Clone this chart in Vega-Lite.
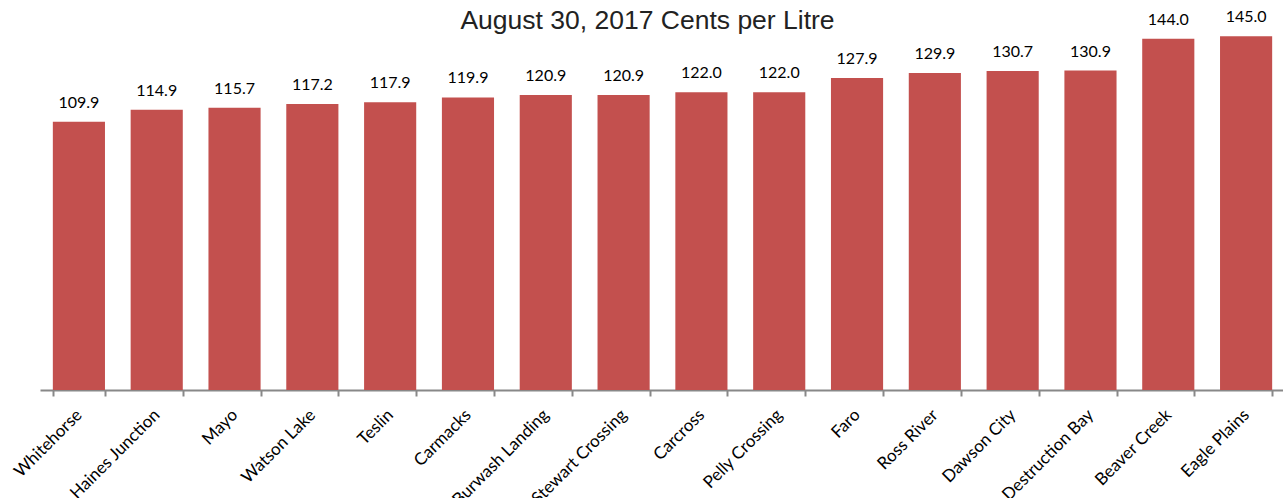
{
  "$schema": "https://vega.github.io/schema/vega-lite/v6.json",
  "width": 1245,
  "height": 366,
  "padding": {"left": 40, "top": 24, "right": 0, "bottom": 108},
  "autosize": {"type": "none"},
  "background": "white",
  "title": {
    "text": "August 30, 2017 Cents per Litre",
    "font": "Liberation Sans",
    "fontSize": 26.5,
    "fontWeight": "normal",
    "color": "#222222",
    "anchor": "middle",
    "offset": -25,
    "dx": -15
  },
  "data": {
    "values": [
      {"community": "Whitehorse", "price": 109.9},
      {"community": "Haines Junction", "price": 114.9},
      {"community": "Mayo", "price": 115.7},
      {"community": "Watson Lake", "price": 117.2},
      {"community": "Teslin", "price": 117.9},
      {"community": "Carmacks", "price": 119.9},
      {"community": "Burwash Landing", "price": 120.9},
      {"community": "Stewart Crossing", "price": 120.9},
      {"community": "Carcross", "price": 122.0},
      {"community": "Pelly Crossing", "price": 122.0},
      {"community": "Faro", "price": 127.9},
      {"community": "Ross River", "price": 129.9},
      {"community": "Dawson City", "price": 130.7},
      {"community": "Destruction Bay", "price": 130.9},
      {"community": "Beaver Creek", "price": 144.0},
      {"community": "Eagle Plains", "price": 145.0}
    ]
  },
  "encoding": {
    "x": {
      "field": "community",
      "type": "nominal",
      "sort": null,
      "scale": {"paddingInner": 0.33, "paddingOuter": 0.165},
      "axis": {
        "title": null,
        "labelAngle": -45,
        "labelAlign": "right",
        "labelBaseline": "middle",
        "labelFont": "Lato",
        "labelFontSize": 17,
        "labelColor": "#000000",
        "labelPadding": 16,
        "labelOverlap": false,
        "domainColor": "#888888",
        "domainWidth": 2,
        "tickColor": "#888888",
        "tickWidth": 2,
        "tickSize": 6,
        "tickBand": "extent",
        "grid": false
      }
    },
    "y": {
      "field": "price",
      "type": "quantitative",
      "scale": {"domain": [0, 150]},
      "axis": null
    }
  },
  "layer": [
    {"mark": {"type": "bar", "color": "#C3504E"}},
    {
      "mark": {"type": "text", "baseline": "bottom", "dy": -11, "font": "Lato", "fontSize": 16, "color": "#000000"},
      "encoding": {"text": {"field": "price", "type": "quantitative", "format": ".1f"}}
    }
  ],
  "config": {"view": {"stroke": null}}
}
